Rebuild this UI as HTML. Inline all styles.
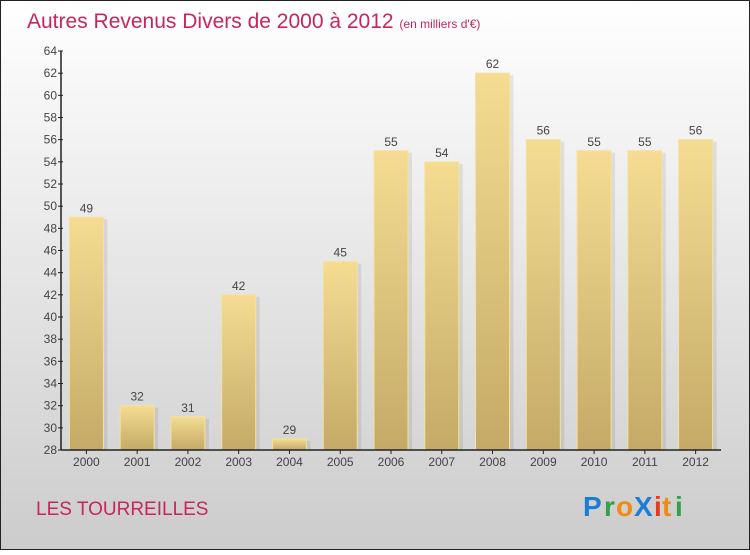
<!DOCTYPE html>
<html><head><meta charset="utf-8"><style>
body{margin:0;width:750px;height:550px;overflow:hidden;font-family:"Liberation Sans",sans-serif}
</style></head><body>
<svg width="750" height="550" xmlns="http://www.w3.org/2000/svg">
<defs>
<linearGradient id="bg" x1="0" y1="0" x2="0" y2="1"><stop offset="0" stop-color="#ffffff"/><stop offset="1" stop-color="#cccccc"/></linearGradient>
<linearGradient id="bar" x1="0" y1="0" x2="0" y2="1"><stop offset="0" stop-color="#f5dc92"/><stop offset="1" stop-color="#c4aa66"/></linearGradient>
</defs>
<rect x="0.5" y="0.5" width="749" height="549" fill="url(#bg)" stroke="#222"/>
<text x="27" y="28" font-size="21" fill="#c8265a">Autres Revenus Divers de 2000 à 2012 <tspan font-size="12">(en milliers d'€)</tspan></text>
<g id="plot"></g>
<text x="36" y="515" font-size="19" fill="#c8265a">LES TOURREILLES</text>
<g font-size="28" font-weight="bold" font-family="'Liberation Sans',sans-serif">
<text x="583" y="516" fill="#1e7bd6">P</text><text x="604" y="516" fill="#33a04a">r</text><text x="616" y="516" fill="#f08a12">o</text><text x="634" y="516" fill="#1e7bd6">X</text><text x="654" y="516" fill="#e63a1e">i</text><text x="662" y="516" fill="#f08a12">t</text><text x="675" y="516" fill="#33a04a">i</text>
</g>
</svg>
<script>
const years=["2000","2001","2002","2003","2004","2005","2006","2007","2008","2009","2010","2011","2012"];
const values=[49,32,31,42,29,45,55,54,62,56,55,55,56];
const yTicks=[28,30,32,34,36,38,40,42,44,46,48,50,52,54,56,58,60,62,64];
const NS="http://www.w3.org/2000/svg";
const g=document.getElementById('plot');
const x0=61,x1=721,yTop=51,yBot=450,ymin=28,ymax=64;
const step=(x1-x0)/years.length;
const y=v=>yBot-(v-ymin)/(ymax-ymin)*(yBot-yTop);
const xc=i=>x0+step*(i+0.5);
function mk(t,a){const e=document.createElementNS(NS,t);for(const k in a)e.setAttribute(k,a[k]);g.appendChild(e);return e;}
values.forEach((v,i)=>{
 const s=mk('rect',{x:xc(i)-17+4,y:y(v)+2,width:34,height:yBot-y(v)-2,fill:'#000',opacity:0.08});
 
 
 const r=mk('rect',{x:xc(i)-17,y:y(v),width:34,height:yBot-y(v),fill:'url(#bar)',stroke:'#f5e2a0','stroke-width':1});
 
 
 const t=mk('text',{x:xc(i),y:y(v)-5,'text-anchor':'middle','font-size':12,fill:'#444'});
 t.textContent=v;
 
 
 const xl=mk('text',{x:xc(i),y:466,'text-anchor':'middle','font-size':12,fill:'#444'});
 xl.textContent=years[i];
 
 
 mk('line',{x1:xc(i),x2:xc(i),y1:yBot,y2:yBot+4,stroke:'#222'});
});
yTicks.forEach(v=>{
 mk('line',{x1:x0-3,x2:x0+2,y1:y(v),y2:y(v),stroke:'#222'});
 const t=mk('text',{x:x0-4,y:y(v)+4,'text-anchor':'end','font-size':12,fill:'#444'});
 t.textContent=v;
 
 
});
const ya=mk('line',{x1:x0,x2:x0,y1:yTop,y2:yBot,stroke:'#222','stroke-width':1.5});


const xa=mk('line',{x1:x0,x2:x1,y1:yBot,y2:yBot,stroke:'#222','stroke-width':1.5});


</script>
</body></html>
